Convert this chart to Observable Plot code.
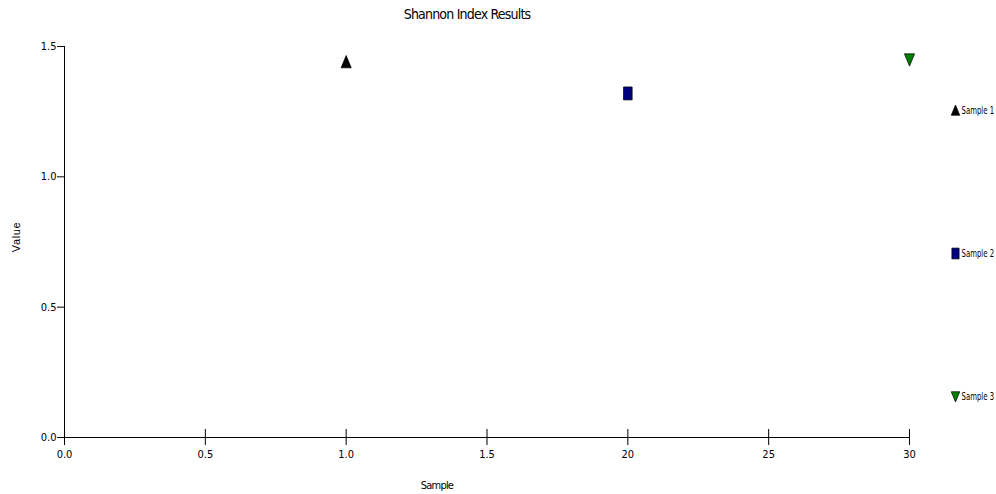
<!DOCTYPE html>
<html>
<head>
<meta charset="utf-8">
<script src="https://cdn.jsdelivr.net/npm/d3@7"></script>
<script src="https://cdn.jsdelivr.net/npm/@observablehq/plot@0.6"></script>
<style>
  html, body { margin: 0; padding: 0; background: #fff; }
  #wrap { position: relative; width: 996px; height: 494px; overflow: hidden;
          font-family: "Liberation Sans Narrow", "DejaVu Sans Condensed", "Liberation Sans", sans-serif; }
  #wrap svg { position: absolute; top: 0; }
  .lbl { position: absolute; white-space: nowrap; color: #000; letter-spacing: -0.4px; }
</style>
</head>
<body>
<div id="wrap"></div>
<script>
const chartTitle = "Shannon Index Results";
const xLabel = "Sample";
const yLabel = "Value";
const samples = ["Sample 1", "Sample 2", "Sample 3"];
const sampleX = [1.0, 2.0, 3.0];
const sampleValues = [1.44, 1.32, 1.45];
const sampleColors = ["#000000", "#000080", "#008000"];
const xTicks = [0, 0.5, 1.0, 1.5, 2.0, 2.5, 3.0];
const xTickLabels = ["0.0", "0.5", "1.0", "1.5", "20", "25", "30"];
const yTicks = [0, 0.5, 1.0, 1.5];
const yTickLabels = ["0.0", "0.5", "1.0", "1.5"];

// custom marker shapes (d3 symbol type objects)
const triUp = { draw(ctx, size) { const r = Math.sqrt(size / Math.PI);
  ctx.moveTo(0, -1.1 * r); ctx.lineTo(0.85 * r, 0.95 * r); ctx.lineTo(-0.85 * r, 0.95 * r); ctx.closePath(); } };
const triDown = { draw(ctx, size) { const r = Math.sqrt(size / Math.PI);
  ctx.moveTo(0, 1.1 * r); ctx.lineTo(0.85 * r, -0.95 * r); ctx.lineTo(-0.85 * r, -0.95 * r); ctx.closePath(); } };
const tallRect = { draw(ctx, size) { const r = Math.sqrt(size / Math.PI);
  ctx.rect(-0.72 * r, -1.08 * r, 1.44 * r, 2.16 * r); } };
const sampleSymbols = [triUp, tallRect, triDown];

const data = samples.map((s, i) => ({ name: s, x: sampleX[i], value: sampleValues[i],
  color: sampleColors[i], symbol: sampleSymbols[i] }));

const font = '"Liberation Sans Narrow", "DejaVu Sans Condensed", "Liberation Sans", sans-serif';

const main = Plot.plot({
  width: 996, height: 494,
  marginLeft: 64, marginRight: 87, marginTop: 46, marginBottom: 57,
  style: { fontFamily: font, fontSize: "11px", color: "#000", background: "transparent" },
  x: { domain: [0, 3] },
  y: { domain: [0, 1.5] },
  marks: [
    Plot.ruleX([0], { stroke: "#000", strokeWidth: 1 }),
    Plot.ruleY([0], { stroke: "#000", strokeWidth: 1 }),
    Plot.axisY({ ticks: yTicks, tickFormat: (d, i) => yTickLabels[i], tickSize: 7, tickPadding: 1,
      label: null, stroke: "#000", strokeOpacity: 1, letterSpacing: -0.6 }),
    Plot.axisX({ ticks: xTicks, tickFormat: () => "", tickSize: 16, dy: -8, label: null,
      stroke: "#000", strokeOpacity: 1 }),
    Plot.axisX({ ticks: xTicks, tickFormat: (d, i) => xTickLabels[i], tickSize: 0, tickPadding: 13,
      label: null, letterSpacing: -0.6 }),
    Plot.dot(data, { x: "x", y: "value", symbol: "symbol", r: 6, fill: "color",
      stroke: "#000", strokeWidth: 0.7 })
  ]
});

const legend = Plot.plot({
  width: 51, height: 494,
  marginLeft: 0, marginRight: 0, marginTop: 110, marginBottom: 98,
  style: { fontFamily: font, fontSize: "11px", color: "#000", background: "transparent" },
  x: { axis: null, domain: [0, 1] },
  y: { type: "point", domain: samples, axis: null, padding: 0 },
  marks: [
    Plot.dot(data, { y: "name", frameAnchor: "left", dx: 10, symbol: "symbol", r: 5,
      fill: "color", stroke: "#000", strokeWidth: 0.7 }),
    Plot.text(data, { y: "name", text: "name", frameAnchor: "left", dx: 16, textAnchor: "start",
      fill: "#000" })
  ]
});
// compress legend labels horizontally to the narrow look of the reference
legend.querySelectorAll("text").forEach(el => {
  const tr = el.getAttribute("transform") || "";
  el.setAttribute("transform", tr + " scale(0.7,1)");
});

const wrap = document.getElementById("wrap");
main.style.left = "0px";
legend.style.left = "945px";
wrap.appendChild(main);
wrap.appendChild(legend);

function addLabel(text, css) {
  const el = document.createElement("div");
  el.className = "lbl";
  el.textContent = text;
  Object.assign(el.style, css);
  wrap.appendChild(el);
  return el;
}
addLabel(chartTitle, { fontSize: "14px", top: "6px", left: "467px", transform: "translateX(-50%)", letterSpacing: "-0.8px" });
addLabel(xLabel, { fontSize: "11px", top: "479px", left: "437px", transform: "translateX(-50%)", letterSpacing: "-0.8px" });
addLabel(yLabel, { fontSize: "11px", top: "237px", left: "16px", fontFamily: '"Liberation Sans", Arial, sans-serif',
  letterSpacing: "0.6px", transform: "translate(-50%, -50%) rotate(-90deg)" });
</script>
</body>
</html>
